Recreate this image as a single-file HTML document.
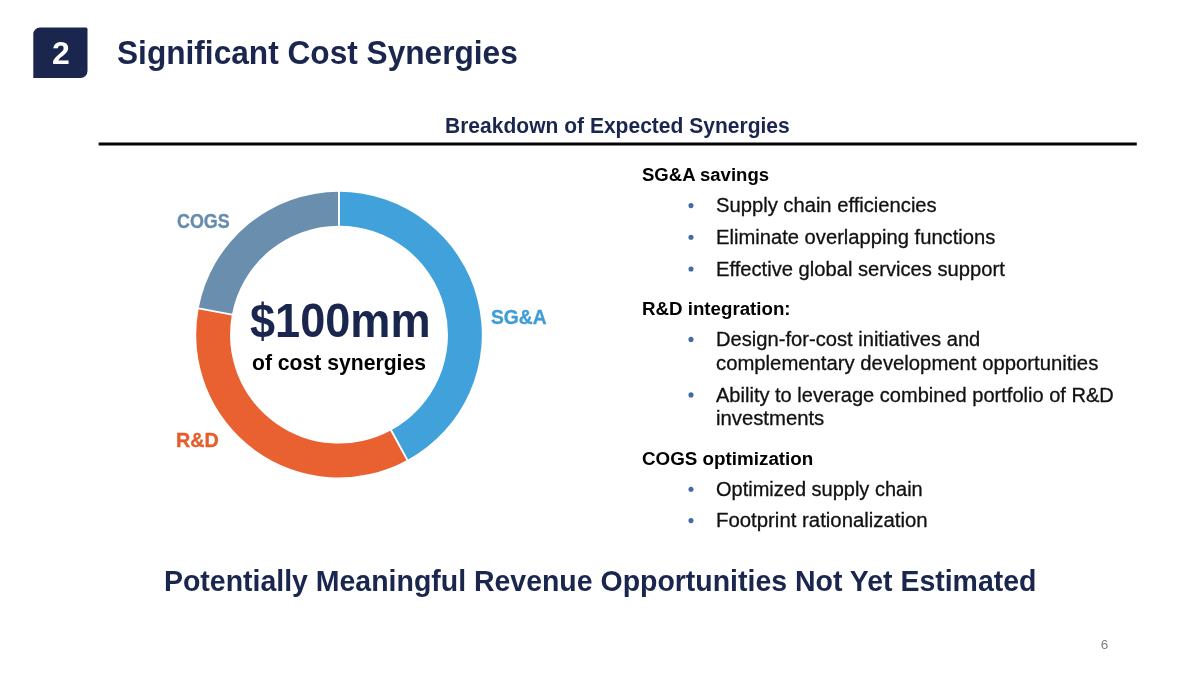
<!DOCTYPE html>
<html lang="en">
<head>
<meta charset="utf-8">
<title>Significant Cost Synergies</title>
<style>
  html, body { margin: 0; padding: 0; background: #ffffff; }
  body { width: 1200px; height: 675px; position: relative; overflow: hidden;
         font-family: "Liberation Sans", sans-serif; color: #000; }
  .t { position: absolute; white-space: nowrap; line-height: 1; transform-origin: 0 50%; margin: 0; font-weight: normal; }
  .b { font-weight: bold; }
  .r { -webkit-text-stroke: 0.3px currentColor; }
  .lb { -webkit-text-stroke: 0.35px currentColor; }
</style>
</head>
<body>
  <svg id="badge" width="60" height="56" viewBox="0 0 60 56" style="position:absolute; left:30px; top:25px;">
    <path fill="#1a264e" d="M9.8 2.5H56Q57.5 2.5 57.5 4V46A7 7 0 0 1 50.500 53H3.3V9A6.5 6.5 0 0 1 9.8 2.5Z"/>
  </svg>
  <svg id="rule" width="1200" height="8" viewBox="0 0 1200 8" style="position:absolute; left:0; top:140px;">
    <rect x="98.6" y="2.5" width="1038.2" height="3" fill="#050505"/>
  </svg>
  <svg id="donut" width="320" height="320" viewBox="0 0 320 320" style="position:absolute; left:179px; top:174px;">
    <g transform="translate(160,160.65)">
      <path fill="#41a1da" d="M0.00 -142.80A142.8 142.8 0 0 1 68.36 125.38L52.15 95.66A108.95 108.95 0 0 0 0.00 -108.95Z"/>
      <path fill="#e96131" d="M68.36 125.38A142.8 142.8 0 0 1 -140.36 -26.27L-107.09 -20.04A108.95 108.95 0 0 0 52.15 95.66Z"/>
      <path fill="#6a8fae" d="M-140.36 -26.27A142.8 142.8 0 0 1 -0.00 -142.80L-0.00 -108.95A108.95 108.95 0 0 0 -107.09 -20.04Z"/>
      <line x1="0.00" y1="-107.45" x2="0.00" y2="-144.30" stroke="#ffffff" stroke-width="1.9"/>
      <line x1="51.44" y1="94.34" x2="69.08" y2="126.69" stroke="#ffffff" stroke-width="1.9"/>
      <line x1="-105.62" y1="-19.77" x2="-141.84" y2="-26.54" stroke="#ffffff" stroke-width="1.9"/>
    </g>
  </svg>
  <svg id="dots" width="12" height="340" viewBox="0 0 12 340" style="position:absolute; left:684.6px; top:200px;">
    <circle cx="6" cy="5.6" r="2.55" fill="#4469ad"/>
    <circle cx="6" cy="37.3" r="2.55" fill="#4469ad"/>
    <circle cx="6" cy="69.0" r="2.55" fill="#4469ad"/>
    <circle cx="6" cy="139.4" r="2.55" fill="#4469ad"/>
    <circle cx="6" cy="194.9" r="2.55" fill="#4469ad"/>
    <circle cx="6" cy="289.2" r="2.55" fill="#4469ad"/>
    <circle cx="6" cy="320.6" r="2.55" fill="#4469ad"/>
  </svg>
  <div class="t b" id="num" style="left:51.83px; top:38.00px; font-size:30.5px; color:#ffffff; transform:scaleX(1.0475);">2</div>
  <h1 class="t b" id="title" style="left:117.23px; top:36.00px; font-size:33.3px; color:#1a264e; transform:scaleX(0.9501);">Significant Cost Synergies</h1>
  <div class="t b" id="sub" style="left:445.11px; top:115.00px; font-size:21.6px; color:#1a264e; transform:scaleX(0.9738);">Breakdown of Expected Synergies</div>
  <div class="t b lb" id="l1" style="left:176.86px; top:210.00px; font-size:21px; color:#668cad; transform:scaleX(0.8516);">COGS</div>
  <div class="t b lb" id="l2" style="left:490.92px; top:306.00px; font-size:21px; color:#3f9dd6; transform:scaleX(0.9156);">SG&amp;A</div>
  <div class="t b lb" id="l3" style="left:175.83px; top:429.00px; font-size:21px; color:#e65d2d; transform:scaleX(0.9395);">R&amp;D</div>
  <div class="t b" id="big" style="left:249.53px; top:297.00px; font-size:47.2px; color:#1a264e; transform:scaleX(0.9558);">$100mm</div>
  <div class="t b" id="small" style="left:251.94px; top:352.00px; font-size:22px; color:#000000; transform:scaleX(0.9617);">of cost synergies</div>
  <div class="t b" id="h1" style="left:641.60px; top:165.00px; font-size:19.2px; color:#000000; transform:scaleX(0.9658);">SG&amp;A savings</div>
  <div class="t r" id="a1" style="left:715.60px; top:195.00px; font-size:20px; color:#111111; transform:scaleX(1.0093);">Supply chain efficiencies</div>
  <div class="t r" id="a2" style="left:715.60px; top:227.00px; font-size:20px; color:#111111; transform:scaleX(1.0091);">Eliminate overlapping functions</div>
  <div class="t r" id="a3" style="left:715.60px; top:259.00px; font-size:20px; color:#111111; transform:scaleX(1.0081);">Effective global services support</div>
  <div class="t b" id="h2" style="left:641.60px; top:299.00px; font-size:19.2px; color:#000000; transform:scaleX(0.9747);">R&amp;D integration:</div>
  <div class="t r" id="b1" style="left:715.60px; top:329.00px; font-size:20px; color:#111111; transform:scaleX(1.0075);">Design-for-cost initiatives and</div>
  <div class="t r" id="b2" style="left:715.60px; top:353.00px; font-size:20px; color:#111111; transform:scaleX(1.0144);">complementary development opportunities</div>
  <div class="t r" id="b3" style="left:715.60px; top:385.00px; font-size:20px; color:#111111; transform:scaleX(1.0023);">Ability to leverage combined portfolio of R&amp;D</div>
  <div class="t r" id="b4" style="left:715.60px; top:408.00px; font-size:20px; color:#111111; transform:scaleX(1.0142);">investments</div>
  <div class="t b" id="h3" style="left:641.60px; top:449.00px; font-size:19.2px; color:#000000; transform:scaleX(0.9799);">COGS optimization</div>
  <div class="t r" id="c1" style="left:715.60px; top:479.00px; font-size:20px; color:#111111; transform:scaleX(0.9998);">Optimized supply chain</div>
  <div class="t r" id="c2" style="left:715.60px; top:510.00px; font-size:20px; color:#111111; transform:scaleX(1.0182);">Footprint rationalization</div>
  <div class="t b" id="foot" style="left:164.25px; top:566.00px; font-size:29.8px; color:#1a264e; transform:scaleX(0.9552);">Potentially Meaningful Revenue Opportunities Not Yet Estimated</div>
  <div class="t" id="pg" style="left:1100.64px; top:638.00px; font-size:13.5px; color:#808080; transform:scaleX(1.0000);">6</div>
</body>
</html>
